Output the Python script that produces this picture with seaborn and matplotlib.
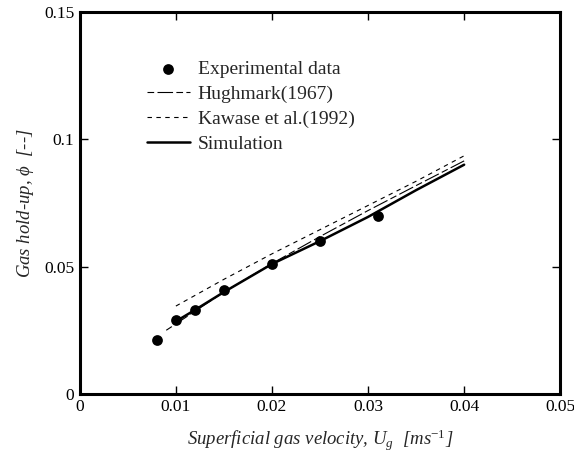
import matplotlib
matplotlib.use("Agg")
import matplotlib.pyplot as plt
import seaborn as sns

# Measured gas hold-up
exp_ug = [0.008, 0.010, 0.012, 0.015, 0.020, 0.025, 0.031]
exp_phi = [0.021, 0.029, 0.033, 0.041, 0.051, 0.060, 0.070]

# Hughmark (1967) correlation
hug_ug = [0.009, 0.010, 0.015, 0.020, 0.025, 0.030, 0.035, 0.040]
hug_phi = [0.0250, 0.0275, 0.0400, 0.0512, 0.0618, 0.0720, 0.0818, 0.0915]

# Kawase et al. (1992) correlation
kaw_ug = [0.010, 0.015, 0.020, 0.025, 0.030, 0.035, 0.040]
kaw_phi = [0.0345, 0.0450, 0.0550, 0.0645, 0.0740, 0.0835, 0.0935]

# Simulation results
sim_ug = [0.010, 0.012, 0.015, 0.020, 0.025, 0.030, 0.035, 0.040]
sim_phi = [0.0285, 0.0330, 0.0400, 0.0510, 0.0600, 0.0695, 0.0800, 0.0900]

sns.set_theme(style="ticks")
plt.rcParams["font.family"] = ["Liberation Serif", "DejaVu Serif"]
plt.rcParams["mathtext.fontset"] = "custom"
plt.rcParams["mathtext.it"] = "Liberation Serif:italic"
plt.rcParams["mathtext.rm"] = "Liberation Serif"
plt.rcParams["mathtext.default"] = "it"

fig = plt.figure(figsize=(5.74, 4.57), dpi=100)
ax = fig.add_axes([0.139, 0.138, 0.837, 0.836])

sns.scatterplot(x=exp_ug, y=exp_phi, ax=ax, color="black", s=60,
                edgecolor="black", linewidth=0, label="Experimental data", zorder=5)
sns.lineplot(x=hug_ug, y=hug_phi, ax=ax, color="black", lw=0.8,
             label="Hughmark(1967)", sort=False).lines[-1].set_dashes([6, 3, 14, 3])
sns.lineplot(x=kaw_ug, y=kaw_phi, ax=ax, color="black", lw=0.8,
             label="Kawase et al.(1992)", sort=False).lines[-1].set_dashes([4, 4])
sns.lineplot(x=sim_ug, y=sim_phi, ax=ax, color="black", lw=1.8,
             label="Simulation", sort=False)

ax.set_xlim(0, 0.05)
ax.set_ylim(0, 0.15)
ax.set_xticks([0, 0.01, 0.02, 0.03, 0.04, 0.05])
ax.set_xticklabels(["0", "0.01", "0.02", "0.03", "0.04", "0.05"])
ax.set_yticks([0, 0.05, 0.1, 0.15])
ax.set_yticklabels(["0", "0.05", "0.1", "0.15"])
ax.tick_params(direction="in", top=True, right=True, length=6, width=1,
               labelsize=12.5, colors="black", pad=4)
for sp in ax.spines.values():
    sp.set_visible(True)
    sp.set_linewidth(2.2)
    sp.set_color("black")

ax.set_xlabel(r"Superficial gas velocity, $U_g$  [ms$^{-1}$]", fontsize=13.5,
              style="italic", labelpad=9)
ax.set_ylabel(r"Gas hold-up, $\phi$  [--]", fontsize=13.5, style="italic", labelpad=6)

leg = ax.legend(loc="upper left", bbox_to_anchor=(0.14, 0.874), frameon=False,
                fontsize=14, handlelength=2.2, handletextpad=0.4, labelspacing=0.38,
                borderaxespad=0, borderpad=0)

fig.savefig("out.png", dpi=100)
